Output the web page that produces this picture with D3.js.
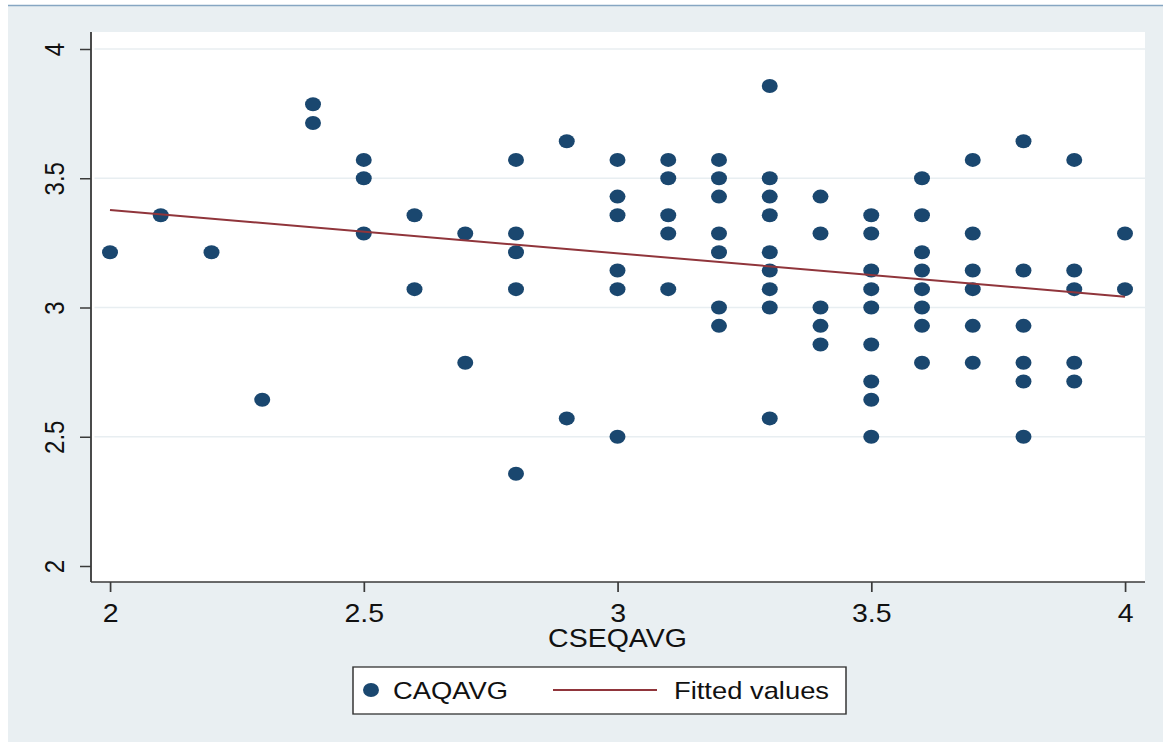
<!DOCTYPE html>
<html lang="en">
<head>
<meta charset="UTF-8">
<title>CAQAVG vs CSEQAVG</title>
<style>
    body{ margin:0; background:#fff; }
    text{ font-family:"Liberation Sans", Arial, sans-serif; fill:#111; }
    .axis line{ stroke:#3a3a3a; stroke-width:1.5; }
    .axis text{ fill:#111; }
    .frame{ stroke:#3a3a3a; stroke-width:1.6; }
    .grid{ stroke:#e8eef1; stroke-width:1.6; }
    .dot{ fill:#1a476f; }
    .fit{ fill:none; stroke:#90353b; stroke-width:2; }
</style>
</head>
<body>
<svg width="1163" height="742"></svg>
<script src="https://cdn.jsdelivr.net/npm/d3@7/dist/d3.min.js"></script>
<script>
// scatter data: x = CSEQAVG, y = CAQAVG
var cseqavg = [
    2.0, 2.1, 2.2, 2.3,
    2.4, 2.4,
    2.5, 2.5, 2.5,
    2.6, 2.6,
    2.7, 2.7,
    2.8, 2.8, 2.8, 2.8, 2.8,
    2.9, 2.9,
    3.0, 3.0, 3.0, 3.0, 3.0, 3.0,
    3.1, 3.1, 3.1, 3.1, 3.1,
    3.2, 3.2, 3.2, 3.2, 3.2, 3.2, 3.2,
    3.3, 3.3, 3.3, 3.3, 3.3, 3.3, 3.3, 3.3, 3.3,
    3.4, 3.4, 3.4, 3.4, 3.4,
    3.5, 3.5, 3.5, 3.5, 3.5, 3.5, 3.5, 3.5, 3.5,
    3.6, 3.6, 3.6, 3.6, 3.6, 3.6, 3.6, 3.6,
    3.7, 3.7, 3.7, 3.7, 3.7, 3.7,
    3.8, 3.8, 3.8, 3.8, 3.8, 3.8,
    3.9, 3.9, 3.9, 3.9, 3.9,
    4.0, 4.0
];
var caqavg = [
    3.214, 3.357, 3.214, 2.643,
    3.786, 3.714,
    3.571, 3.5, 3.286,
    3.357, 3.071,
    3.286, 2.786,
    3.571, 3.286, 3.214, 3.071, 2.357,
    3.643, 2.571,
    3.571, 3.429, 3.357, 3.143, 3.071, 2.5,
    3.571, 3.5, 3.357, 3.286, 3.071,
    3.571, 3.5, 3.429, 3.286, 3.214, 3.0, 2.929,
    3.857, 3.5, 3.429, 3.357, 3.214, 3.143, 3.071, 3.0, 2.571,
    3.429, 3.286, 3.0, 2.929, 2.857,
    3.357, 3.286, 3.143, 3.071, 3.0, 2.857, 2.714, 2.643, 2.5,
    3.5, 3.357, 3.214, 3.143, 3.071, 3.0, 2.929, 2.786,
    3.571, 3.286, 3.143, 3.071, 2.929, 2.786,
    3.643, 3.143, 2.929, 2.786, 2.714, 2.5,
    3.571, 3.143, 3.071, 2.786, 2.714,
    3.286, 3.071
];
// fitted values line (ends)
var fitX = [2, 4];
var fitY = [3.377, 3.042];

var xTicks = [2, 2.5, 3, 3.5, 4];
var yTicks = [2, 2.5, 3, 3.5, 4];
var legendLabels = ["CAQAVG", "Fitted values"];

var svg = d3.select("svg");
var sx = 1.14;   // the original picture is stretched sideways a bit
function px(v){ return v / sx; }

// outer background + top rule
svg.append("rect")
    .attr("x", 8).attr("y", 6)
    .attr("width", 1155).attr("height", 736)
    .attr("fill", "#e9eff2");
svg.append("line")
    .attr("x1", 8).attr("x2", 1163)
    .attr("y1", 5.5).attr("y2", 5.5)
    .attr("stroke", "#86a6c2").attr("stroke-width", 1.5);

var g = svg.append("g").attr("transform", "scale(" + sx + ",1)");

var plot = {left: px(91), right: px(1145), top: 32, bottom: 582};

var x = d3.scaleLinear().domain([2, 4]).range([px(110), px(1125)]);
var y = d3.scaleLinear().domain([2, 4]).range([566, 49]);

g.append("rect")
    .attr("x", plot.left).attr("y", plot.top)
    .attr("width", plot.right - plot.left)
    .attr("height", plot.bottom - plot.top)
    .attr("fill", "#fff");

// grid lines
g.selectAll(".grid")
    .data(yTicks.filter(function(d){ return d > 2; }))
    .enter().append("line")
    .attr("class", "grid")
    .attr("x1", plot.left + 3).attr("x2", plot.right)
    .attr("y1", function(d){ return y(d); })
    .attr("y2", function(d){ return y(d); });

// axes
var yAxis = g.append("g")
    .attr("class", "axis")
    .attr("transform", "translate(" + plot.left + ",0)")
    .call(d3.axisLeft(y).tickValues(yTicks).tickSize(px(11)).tickSizeOuter(0)
        .tickFormat(function(d){ return String(d); }));
yAxis.select(".domain").remove();
yAxis.selectAll("text")
    .attr("x", 0).attr("dy", 0)
    .attr("text-anchor", "middle")
    .attr("font-size", 24)
    .attr("transform", "translate(" + px(-27) + ",0) rotate(-90)");

var xAxis = g.append("g")
    .attr("class", "axis")
    .attr("transform", "translate(0," + plot.bottom + ")")
    .call(d3.axisBottom(x).tickValues(xTicks).tickSize(10).tickSizeOuter(0).tickPadding(12)
        .tickFormat(function(d){ return String(d); }));
xAxis.select(".domain").remove();
xAxis.selectAll("text").attr("font-size", 25);

g.append("line").attr("class", "frame")
    .attr("x1", plot.left).attr("x2", plot.left)
    .attr("y1", plot.top).attr("y2", plot.bottom);
g.append("line").attr("class", "frame")
    .attr("x1", plot.left).attr("x2", plot.right)
    .attr("y1", plot.bottom).attr("y2", plot.bottom);

g.append("text")
    .attr("x", x(3)).attr("y", 647)
    .attr("text-anchor", "middle")
    .attr("font-size", 25)
    .text("CSEQAVG");

// points
var points = cseqavg.map(function(v, i){ return {x: v, y: caqavg[i]}; });
g.selectAll(".dot")
    .data(points)
    .enter().append("circle")
    .attr("class", "dot")
    .attr("cx", function(d){ return x(d.x); })
    .attr("cy", function(d){ return y(d.y); })
    .attr("r", 7);

// fitted line
var line = d3.line()
    .x(function(d){ return x(d[0]); })
    .y(function(d){ return y(d[1]); });
g.append("path")
    .attr("class", "fit")
    .attr("d", line(d3.zip(fitX, fitY)));

// legend
var lg = g.append("g");
lg.append("rect")
    .attr("x", px(353)).attr("y", 667)
    .attr("width", px(846) - px(353)).attr("height", 47)
    .attr("fill", "#fff").attr("stroke", "#333").attr("stroke-width", 1.3);
lg.append("circle").attr("class", "dot")
    .attr("cx", px(371)).attr("cy", 690).attr("r", 7);
lg.append("text")
    .attr("x", px(393)).attr("y", 699)
    .attr("font-size", 24)
    .text(legendLabels[0]);
lg.append("line")
    .attr("x1", px(553)).attr("x2", px(657))
    .attr("y1", 690).attr("y2", 690)
    .attr("stroke", "#90353b").attr("stroke-width", 2);
lg.append("text")
    .attr("x", px(674)).attr("y", 699)
    .attr("font-size", 24)
    .text(legendLabels[1]);
</script>
</body>
</html>
